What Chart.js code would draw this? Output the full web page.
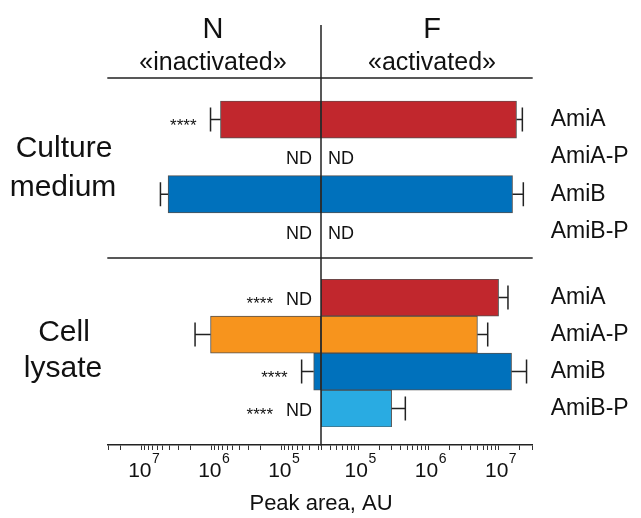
<!DOCTYPE html>
<html>
<head>
<meta charset="utf-8">
<script src="https://cdn.jsdelivr.net/npm/chart.js@4"></script>
<style>
  body { margin: 0; background: #fff; }
</style>
</head>
<body>
<canvas id="chart" width="641" height="518"></canvas>
<script>
// rows inside each group
const rows = ['AmiA', 'AmiA-P', 'AmiB', 'AmiB-P'];
const rowColors = ['#C1272D', '#F7941D', '#0071BC', '#29ABE2'];

// culture medium, N (inactivated) and F (activated)
const cmN = [7.5e5, null, 4.2e6, null];
const cmNErr = [1.04e6, null, 5.4e6, null];
const cmF = [1.8e7, null, 1.58e7, null];
const cmFErr = [2.18e7, null, 2.25e7, null];
const cmNdN = [false, true, false, true];
const cmNdF = [false, true, false, true];
const cmStars = [true, false, false, false];

// cell lysate
const clN = [null, 1.04e6, 3.5e4, null];
const clNErr = [null, 1.73e6, 5.2e4, null];
const clF = [1.0e7, 5.0e6, 1.53e7, 3.0e5];
const clFErr = [1.36e7, 7.0e6, 2.5e7, 4.7e5];
const clNdN = [true, false, false, true];
const clNdF = [false, false, false, false];
const clStars = [true, false, true, true];

const tickExps = [5, 6, 7];
const decades = [1e4, 1e5, 1e6, 1e7];
const mantissas = [1, 2, 3, 4, 5, 6, 7, 8, 9];

const FONT = '"Liberation Sans", Arial, sans-serif';
const INK = '#222';

function logTicks(scale) {
  const list = [];
  decades.forEach(d => mantissas.forEach(m => {
    const v = d * m;
    if (v >= scale.min && v <= scale.max) list.push({value: v, major: m === 1});
  }));
  scale.ticks = list;
}

function xAxis(min, max, reverse, weight) {
  return {
    type: 'logarithmic',
    position: 'bottom',
    stack: 'cols',
    stackWeight: weight,
    min: min,
    max: max,
    reverse: reverse,
    afterBuildTicks: logTicks,
    afterFit: s => { s.height = 73; },
    ticks: {display: false},
    grid: {display: true, drawOnChartArea: false, drawTicks: true, tickLength: 5, tickColor: '#333', tickWidth: 1},
    border: {display: true, color: INK, width: 1.5}
  };
}

function yAxis(labels, weight, show) {
  return {
    type: 'category',
    position: 'right',
    stack: 'rows',
    stackWeight: weight,
    labels: labels,
    offset: true,
    afterFit: s => { s.width = 108.3; },
    grid: {display: false, drawTicks: false},
    border: {display: false},
    ticks: {display: show, autoSkip: false, padding: 18, color: '#111', font: {family: FONT, size: 23}}
  };
}

function bars(data, xId, yId) {
  return {
    data: data,
    xAxisID: xId,
    yAxisID: yId,
    grouped: false,
    backgroundColor: rowColors,
    borderColor: 'rgba(50,50,50,0.85)',
    borderWidth: 1,
    borderSkipped: false,
    barPercentage: 1,
    categoryPercentage: 1
  };
}

function textCap(ctx, str, x, yc, size, align) {
  ctx.font = size + 'px ' + FONT;
  ctx.textAlign = align || 'center';
  ctx.textBaseline = 'alphabetic';
  ctx.fillText(str, x, yc + size * 0.358);
}

const deco = {
  id: 'deco',
  afterDatasetsDraw(chart) {
    const ctx = chart.ctx;
    const {xN, xF, yCM, yGap, yCL} = chart.scales;
    const area = chart.chartArea;
    const mid = xN.right;
    ctx.save();
    ctx.strokeStyle = INK;
    ctx.fillStyle = '#111';

    // frame lines
    ctx.lineWidth = 1.5;
    ctx.beginPath();
    ctx.moveTo(mid, 25); ctx.lineTo(mid, area.bottom);
    ctx.moveTo(area.left, 78); ctx.lineTo(area.right, 78);
    const sepY = yGap.top + 7.6;
    ctx.moveTo(area.left, sepY); ctx.lineTo(area.right, sepY);
    ctx.stroke();

    // error bars, ND and stars
    const groups = [
      {y: yCM, n: cmN, ne: cmNErr, f: cmF, fe: cmFErr, ndN: cmNdN, ndF: cmNdF, st: cmStars},
      {y: yCL, n: clN, ne: clNErr, f: clF, fe: clFErr, ndN: clNdN, ndF: clNdF, st: clStars}
    ];
    groups.forEach(g => {
      rows.forEach((r, i) => {
        const yc = g.y.getPixelForValue(i);
        [[xN, g.n, g.ne], [xF, g.f, g.fe]].forEach(([sc, v, e]) => {
          if (v[i] == null) return;
          const a = sc.getPixelForValue(v[i]);
          const b = sc.getPixelForValue(e[i]);
          ctx.lineWidth = 1.5;
          ctx.beginPath();
          ctx.moveTo(a, yc); ctx.lineTo(b, yc);
          ctx.moveTo(b, yc - 12); ctx.lineTo(b, yc + 12);
          ctx.stroke();
        });
        let starRight = null;
        if (g.ndN[i]) {
          textCap(ctx, 'ND', mid - 9, yc + 1, 18, 'right');
          ctx.font = '18px ' + FONT;
          starRight = mid - 9 - ctx.measureText('ND').width - 13;
        }
        if (g.ndF[i]) textCap(ctx, 'ND', mid + 7, yc + 1, 18, 'left');
        if (g.st[i]) {
          if (starRight == null) starRight = xN.getPixelForValue(g.ne[i]) - 14;
          ctx.font = '17px ' + FONT;
          ctx.textAlign = 'right';
          ctx.textBaseline = 'alphabetic';
          ctx.fillText('****', starRight, yc + 11);
        }
      });
    });

    // x tick labels with exponents
    [xN, xF].forEach(sc => {
      tickExps.forEach(e => {
        const px = sc.getPixelForValue(Math.pow(10, e)) + 2;
        ctx.font = '21px ' + FONT;
        const w1 = ctx.measureText('10').width;
        ctx.font = '14px ' + FONT;
        const w2 = ctx.measureText(String(e)).width;
        const x0 = px - (w1 + w2) / 2;
        textCap(ctx, '10', x0, 469, 21, 'left');
        textCap(ctx, String(e), x0 + w1 + 0.5, 458, 14, 'left');
      });
    });
    textCap(ctx, 'Peak area, AU', mid, 502, 22, 'center');

    // headers
    textCap(ctx, 'N', mid - 108, 28, 29);
    textCap(ctx, 'F', mid + 111, 28, 29);
    textCap(ctx, '«inactivated»', mid - 108, 61, 25);
    textCap(ctx, '«activated»', mid + 111, 61, 25);

    // group labels
    textCap(ctx, 'Culture', 64, 146.5, 30);
    textCap(ctx, 'medium', 63, 185, 30);
    textCap(ctx, 'Cell', 64, 330, 30);
    textCap(ctx, 'lysate', 63, 366, 30);
    ctx.restore();
  }
};

new Chart(document.getElementById('chart'), {
  type: 'bar',
  data: {
    datasets: [
      bars(cmN, 'xN', 'yCM'),
      bars(cmF, 'xF', 'yCM'),
      bars(clN, 'xN', 'yCL'),
      bars(clF, 'xF', 'yCL')
    ]
  },
  options: {
    indexAxis: 'y',
    responsive: false,
    animation: false,
    layout: {padding: {left: 107.3, top: 100.8, right: 0, bottom: 0}},
    plugins: {legend: {display: false}, tooltip: {enabled: false}},
    scales: {
      xN: xAxis(2.75e4, 3.1e7, true, 213.7),
      xF: xAxis(2.96e4, 3.06e7, false, 211.7),
      yCM: yAxis(rows, 149.6, true),
      yGap: yAxis([''], 28.7, false),
      yCL: yAxis(rows, 148, true),
      yPad: yAxis([''], 17.9, false)
    }
  },
  plugins: [deco]
});
</script>
</body>
</html>
